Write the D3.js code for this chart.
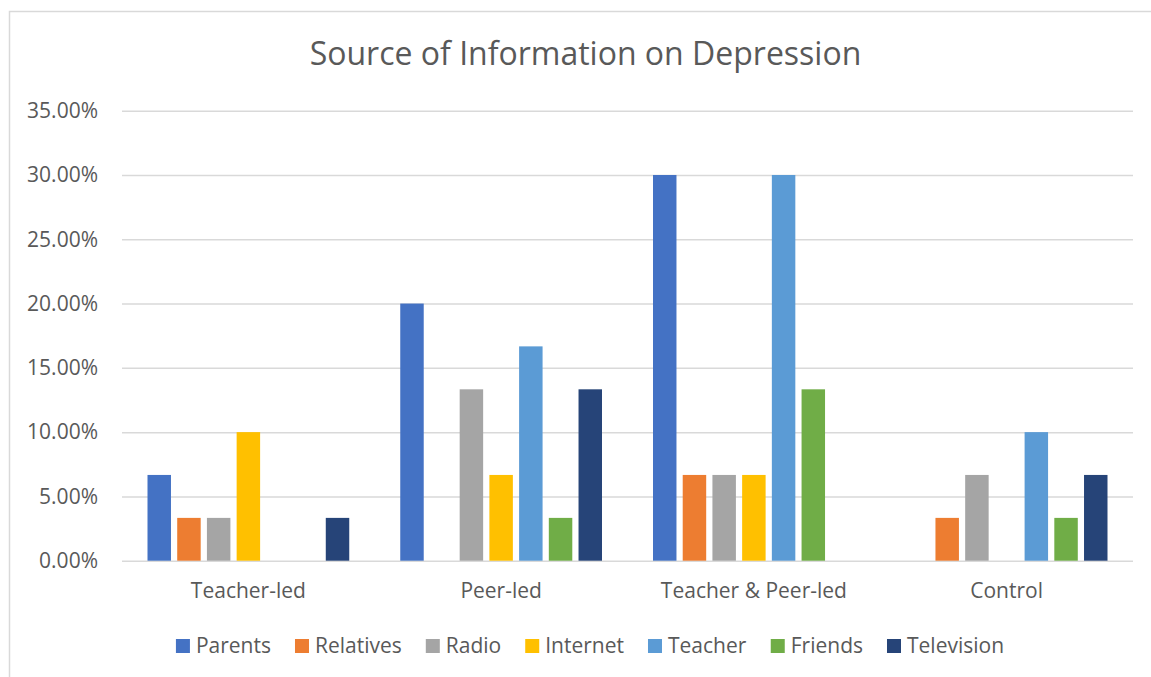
<!DOCTYPE html>
<html>
<head>
<meta charset="utf-8">
<script src="https://cdn.jsdelivr.net/npm/d3@7"></script>
<style>
  body { margin: 0; background: #fff; }
  svg text { font-family: "Open Sans", sans-serif; fill: #595959; }
</style>
</head>
<body>
<svg id="chart" width="1151" height="677"></svg>
<script>
const categories = ['Teacher-led', 'Peer-led', 'Teacher & Peer-led', 'Control'];
const seriesNames = ['Parents', 'Relatives', 'Radio', 'Internet', 'Teacher', 'Friends', 'Television'];
const parents    = [0.0667, 0.2000, 0.3000, 0.0000];
const relatives  = [0.0333, 0.0000, 0.0667, 0.0333];
const radio      = [0.0333, 0.1333, 0.0667, 0.0667];
const internet   = [0.1000, 0.0667, 0.0667, 0.0000];
const teacher    = [0.0000, 0.1667, 0.3000, 0.1000];
const friends    = [0.0000, 0.0333, 0.1333, 0.0333];
const television = [0.0333, 0.1333, 0.0000, 0.0667];
const yTicks = [0, 0.05, 0.10, 0.15, 0.20, 0.25, 0.30, 0.35];
const colors = ['#4472C4', '#ED7D31', '#A5A5A5', '#FFC000', '#5B9BD5', '#70AD47', '#264478'];

const seriesValues = [parents, relatives, radio, internet, teacher, friends, television];
const rows = categories.map((c, i) => ({
  category: c,
  values: seriesNames.map((s, j) => ({ name: s, value: seriesValues[j][i] }))
}));

const svg = d3.select('#chart');

// chart border (runs off the right and bottom of the picture)
svg.append('rect')
  .attr('x', 9.5).attr('y', 11.5)
  .attr('width', 1160).attr('height', 700)
  .attr('fill', 'none')
  .attr('stroke', '#d9d9d9')
  .attr('stroke-width', 1.5);

svg.append('text')
  .attr('x', 585.5).attr('y', 65)
  .attr('text-anchor', 'middle')
  .style('font-size', '32px')
  .text('Source of Information on Depression');

const x0 = d3.scaleBand().domain(categories).range([122, 1133]).padding(0);
const groupPad = 25.5;
const x1 = d3.scaleBand().domain(seriesNames)
  .range([groupPad, x0.bandwidth() - groupPad])
  .paddingInner(0.21).paddingOuter(0);
const y = d3.scaleLinear().domain([0, 0.35]).range([560.7, 110.7]);

// gridlines + y labels
const yAxis = svg.append('g')
  .attr('transform', 'translate(122,0)')
  .call(d3.axisLeft(y).tickValues(yTicks).tickFormat(d3.format('.2%'))
    .tickSize(-(1133 - 122)).tickPadding(24));
yAxis.select('.domain').remove();
yAxis.selectAll('line').attr('stroke', '#d9d9d9').attr('stroke-width', 1.5);
yAxis.selectAll('text').style('font-size', '21px').attr('fill', '#595959');

const groups = svg.selectAll('.group')
  .data(rows)
  .enter().append('g')
    .attr('class', 'group')
    .attr('transform', d => 'translate(' + x0(d.category) + ',0)');

groups.selectAll('rect')
  .data(d => d.values.filter(v => v.value > 0))
  .enter().append('rect')
    .attr('x', d => x1(d.name))
    .attr('y', d => y(d.value))
    .attr('width', x1.bandwidth())
    .attr('height', d => y(0) - y(d.value))
    .attr('fill', d => colors[seriesNames.indexOf(d.name)]);

// category labels
const xAxis = svg.append('g')
  .attr('transform', 'translate(0,560.7)')
  .call(d3.axisBottom(x0).tickSize(0).tickPadding(22));
xAxis.select('.domain').remove();
xAxis.selectAll('text').style('font-size', '21px').attr('fill', '#595959');

// legend
const legend = svg.append('g');
const items = legend.selectAll('.item')
  .data(seriesNames)
  .enter().append('g')
    .attr('class', 'item');
items.append('rect')
  .attr('width', 14).attr('height', 14)
  .attr('y', 639)
  .attr('fill', (d, i) => colors[i]);
items.append('text')
  .attr('x', 20).attr('y', 653)
  .style('font-size', '21px')
  .text(d => d);

const gap = 24;
let cursor = 0;
items.each(function() {
  const w = this.getBBox().width;
  d3.select(this).attr('transform', 'translate(' + cursor + ',0)');
  cursor += w + gap;
});
const total = cursor - gap;
legend.attr('transform', 'translate(' + (590 - total / 2) + ',0)');
</script>
</body>
</html>
